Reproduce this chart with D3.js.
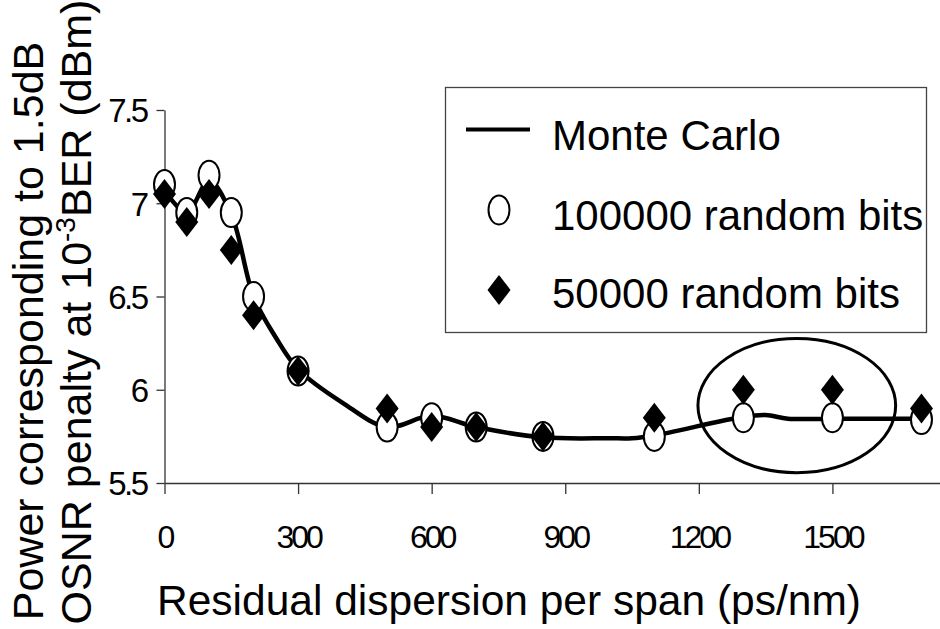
<!DOCTYPE html>
<html>
<head>
<meta charset="utf-8">
<script src="https://cdn.jsdelivr.net/npm/d3@7"></script>
<style>
  body { margin: 0; background: #fff; }
  text { font-family: "Liberation Sans", Arial, sans-serif; fill: #000; }
</style>
</head>
<body>
<div id="chart"></div>
<script>
// residual dispersion values (ps/nm) where the random-bit runs were done
const dispersion = [0, 50, 100, 150, 200, 300, 500, 600, 700, 850, 1100, 1300, 1500, 1700]
const bits100k = [7.1, 6.95, 7.15, 6.95, 6.5, 6.1, 5.8, 5.85, 5.8, 5.75, 5.75, 5.85, 5.85, 5.84]
const bits50k = [7.05, 6.9, 7.05, 6.75, 6.4, 6.1, 5.9, 5.8, 5.8, 5.75, 5.85, 6.0, 6.0, 5.9]

// Monte Carlo curve
const mcX = [0, 50, 100, 150, 200, 250, 300, 400, 500, 600, 700, 850, 1000, 1050, 1100, 1300, 1350, 1400, 1500, 1700]
const mcY = [7.07, 6.95, 7.12, 6.94, 6.5, 6.28, 6.11, 5.93, 5.8, 5.86, 5.8, 5.745, 5.74, 5.74, 5.755, 5.855, 5.865, 5.845, 5.845, 5.845]

const xTicks = [0, 300, 600, 900, 1200, 1500]
const yTicks = [5.5, 6, 6.5, 7, 7.5]
const legendLabels = ["Monte Carlo", "100000 random bits", "50000 random bits"]

// highlighted region (data units): centre and radii
const highlight = {cx: 1420, cy: 5.915, rx: 222, ry: 0.36}

const width = 940
const height = 629

const svg = d3.select("#chart").append("svg")
  .attr("width", width)
  .attr("height", height)

const x = d3.scaleLinear()
  .domain([0, 1800])
  .range([164.5, 966])
const y = d3.scaleLinear()
  .domain([5.5, 7.5])
  .range([483, 110])

// x axis
const xAxis = svg.append("g")
  .attr("transform", "translate(0,483)")
  .call(d3.axisBottom(x).tickValues(xTicks).tickSize(11).tickSizeOuter(0).tickFormat(d => String(d)))
xAxis.select(".domain").attr("stroke", "#333").attr("stroke-width", 1.3)
xAxis.selectAll(".tick line").attr("stroke", "#333").attr("stroke-width", 1.3)
xAxis.selectAll(".tick text")
  .attr("y", 65)
  .attr("dy", null)
  .style("font-family", "'Liberation Sans', Arial, sans-serif")
  .style("font-size", "32px")
  .style("letter-spacing", "-3px")
  .attr("fill", "#000")

// y axis
const yAxis = svg.append("g")
  .attr("transform", "translate(164.5,0)")
  .call(d3.axisLeft(y).tickValues(yTicks).tickSize(8).tickSizeOuter(0).tickFormat(d => String(d)))
yAxis.select(".domain").attr("stroke", "#333").attr("stroke-width", 1.3)
yAxis.selectAll(".tick line").attr("stroke", "#333").attr("stroke-width", 1.3)
yAxis.selectAll(".tick text")
  .attr("x", -18)
  .attr("dy", "0.36em")
  .style("font-family", "'Liberation Sans', Arial, sans-serif")
  .style("font-size", "33px")
  .style("letter-spacing", "-2.5px")
  .attr("fill", "#000")

// Monte Carlo line
const line = d3.line()
  .x((d, i) => x(mcX[i]))
  .y(d => y(d))
  .curve(d3.curveCatmullRom.alpha(0.5))

svg.append("path")
  .datum(mcY)
  .attr("fill", "none")
  .attr("stroke", "#000")
  .attr("stroke-width", 4.5)
  .attr("d", line)

// 100000 random bits: open circles
svg.append("g")
  .selectAll("ellipse")
  .data(bits100k)
  .enter().append("ellipse")
  .attr("cx", (d, i) => x(dispersion[i]))
  .attr("cy", d => y(d))
  .attr("rx", 10.5)
  .attr("ry", 14.5)
  .attr("fill", "#fff")
  .attr("stroke", "#000")
  .attr("stroke-width", 2)

// 50000 random bits: filled diamonds
const diamond = "M0,-15L11.5,0L0,15L-11.5,0Z"
svg.append("g")
  .selectAll("path")
  .data(bits50k)
  .enter().append("path")
  .attr("transform", (d, i) => `translate(${x(dispersion[i])},${y(d)})`)
  .attr("d", diamond)
  .attr("fill", "#000")

// highlight ellipse
svg.append("ellipse")
  .attr("cx", x(highlight.cx))
  .attr("cy", y(highlight.cy))
  .attr("rx", x(highlight.rx) - x(0))
  .attr("ry", y(0) - y(highlight.ry))
  .attr("fill", "none")
  .attr("stroke", "#000")
  .attr("stroke-width", 3)

// legend
const legend = svg.append("g")
legend.append("rect")
  .attr("x", 445.5)
  .attr("y", 87.5)
  .attr("width", 481)
  .attr("height", 245)
  .attr("fill", "#fff")
  .attr("stroke", "#444")
  .attr("stroke-width", 1.3)
legend.append("line")
  .attr("x1", 466).attr("x2", 530)
  .attr("y1", 129.5).attr("y2", 129.5)
  .attr("stroke", "#000")
  .attr("stroke-width", 4)
legend.append("ellipse")
  .attr("cx", 499).attr("cy", 210)
  .attr("rx", 10.5).attr("ry", 14.5)
  .attr("fill", "#fff")
  .attr("stroke", "#000")
  .attr("stroke-width", 2)
legend.append("path")
  .attr("transform", "translate(499,290)")
  .attr("d", diamond)
  .attr("fill", "#000")
legend.selectAll("text")
  .data(legendLabels)
  .enter().append("text")
  .attr("x", 552)
  .attr("y", (d, i) => [150, 230, 308][i])
  .style("font-size", "42px")
  .text(d => d)

// axis titles
svg.append("text")
  .attr("x", 157)
  .attr("y", 615)
  .style("font-size", "42.5px")
  .text("Residual dispersion per span (ps/nm)")

svg.append("text")
  .attr("transform", "translate(43,331) rotate(-90)")
  .attr("text-anchor", "middle")
  .style("font-size", "43px")
  .text("Power corresponding to 1.5dB")

const yt2 = svg.append("text")
  .attr("transform", "translate(91,312) rotate(-90)")
  .attr("text-anchor", "middle")
  .style("font-size", "43px")
yt2.append("tspan").text("OSNR penalty at 10")
yt2.append("tspan").attr("dy", -16).style("font-size", "28px").text("-3")
yt2.append("tspan").attr("dy", 16).text("BER (dBm)")
</script>
</body>
</html>
